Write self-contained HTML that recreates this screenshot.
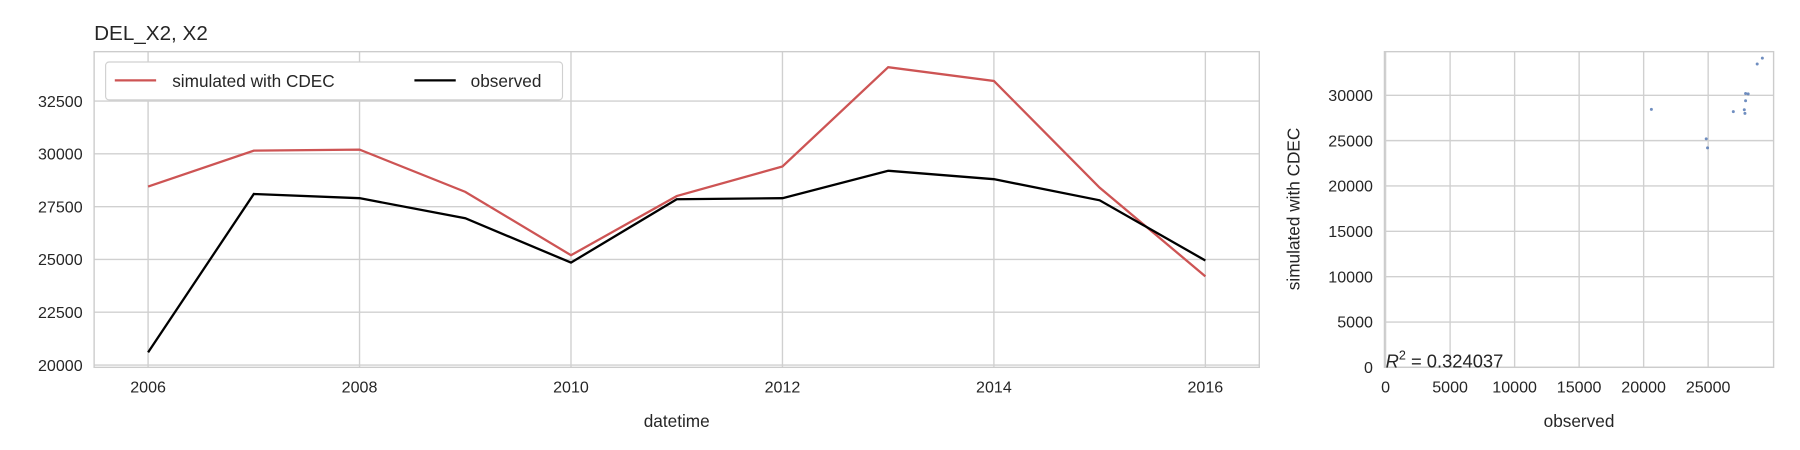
<!DOCTYPE html>
<html><head><meta charset="utf-8">
<style>
html,body{margin:0;padding:0;background:#fff;}
svg{display:block;font-family:"Liberation Sans",Arial,sans-serif;}
</style></head>
<body>
<svg id="c" width="1800" height="450" viewBox="0 0 1568 392" xmlns="http://www.w3.org/2000/svg">
<text x="82" y="35" font-size="18" fill="#262626">DEL_X2, X2</text>
<g id="left"></g>
<g id="right"></g>
</svg>
<script>
const years = [2006,2007,2008,2009,2010,2011,2012,2013,2014,2015,2016];
const simulated = [28450,30150,30200,28200,25200,28000,29400,34100,33450,28400,24200];
const observed = [20600,28100,27900,26950,24850,27850,27900,29200,28800,27800,24950];
const leftYTicks = [20000,22500,25000,27500,30000,32500];
const leftXTicks = [2006,2008,2010,2012,2014,2016];
const rightTicks = [0,5000,10000,15000,20000,25000,30000];
const rightXTicks = [0,5000,10000,15000,20000,25000];
const r2Label = "0.324037";

const NS="http://www.w3.org/2000/svg";
function mk(parent,tag,attrs,text){const e=document.createElementNS(NS,tag);for(const k in attrs)e.setAttribute(k,attrs[k]);if(text!==undefined)e.textContent=text;parent.appendChild(e);return e;}

const L=document.getElementById('left');
const lx0=82,lx1=1097,ly0=45,ly1=320;
const xs=v=>129+(v-2006)*92.1;
const ys=v=>318-(v-20000)*46/2500;
let e;
leftYTicks.forEach(t=>{
 e=mk(L,'line',{x1:lx0,x2:lx1,y1:ys(t),y2:ys(t),stroke:'#d0d0d0','stroke-width':1.2});
 
 
 e=mk(L,'text',{x:lx0-10,y:ys(t)+5,'font-size':14,fill:'#262626','text-anchor':'end'},String(t));
 
 
});
leftXTicks.forEach(t=>{
 e=mk(L,'line',{x1:xs(t),x2:xs(t),y1:ly0,y2:ly1,stroke:'#d0d0d0','stroke-width':1.2});
 
 
 e=mk(L,'text',{x:xs(t),y:ly1+22,'font-size':14,fill:'#262626','text-anchor':'middle'},String(t));
 
 
});
e=mk(L,'rect',{x:lx0,y:ly0,width:lx1-lx0,height:ly1-ly0,fill:'none',stroke:'#cccccc','stroke-width':1.2});


e=mk(L,'text',{x:(lx0+lx1)/2,y:372,'font-size':15,fill:'#262626','text-anchor':'middle'},'datetime');


e=mk(L,'polyline',{points:years.map((y,i)=>xs(y)+','+ys(simulated[i])).join(' '),fill:'none',stroke:'#cd5454','stroke-width':2});


e=mk(L,'polyline',{points:years.map((y,i)=>xs(y)+','+ys(observed[i])).join(' '),fill:'none',stroke:'#000','stroke-width':2});


const lg=mk(L,'g',{});


mk(lg,'rect',{x:92,y:54,width:398,height:33,rx:3,fill:'#fff',stroke:'#d0d0d0','stroke-width':1});
mk(lg,'line',{x1:100,x2:136,y1:70,y2:70,stroke:'#cd5454','stroke-width':2});
e=mk(lg,'text',{x:150,y:76,'font-size':15,fill:'#262626'},'simulated with CDEC');


mk(lg,'line',{x1:361,x2:397,y1:70,y2:70,stroke:'#000','stroke-width':2});
e=mk(lg,'text',{x:410,y:76,'font-size':15,fill:'#262626'},'observed');



const R=document.getElementById('right');
const rx0=1206,rx1=1545,ry0=45,ry1=320;
const sx=v=>1207+v*281/25000;
const sy=v=>320-v*39.5/5000;
rightTicks.forEach(t=>{
 e=mk(R,'line',{x1:rx0,x2:rx1,y1:sy(t),y2:sy(t),stroke:'#d0d0d0','stroke-width':1.2});
 
 
 e=mk(R,'text',{x:rx0-10,y:sy(t)+5,'font-size':14,fill:'#262626','text-anchor':'end'},String(t));
 
 
});
rightXTicks.forEach(t=>{
 e=mk(R,'line',{x1:sx(t),x2:sx(t),y1:ry0,y2:ry1,stroke:'#d0d0d0','stroke-width':1.2});
 
 
 e=mk(R,'text',{x:sx(t),y:ry1+22,'font-size':14,fill:'#262626','text-anchor':'middle'},String(t));
 
 
});
e=mk(R,'rect',{x:rx0,y:ry0,width:rx1-rx0,height:ry1-ry0,fill:'none',stroke:'#cccccc','stroke-width':1.2});


observed.forEach((o,i)=>{
 e=mk(R,'circle',{cx:sx(o),cy:sy(simulated[i]),r:1.3,fill:'#4c72b0',opacity:0.8});
 
 
});
e=mk(R,'text',{x:(rx0+rx1)/2,y:372,'font-size':15,fill:'#262626','text-anchor':'middle'},'observed');


e=mk(R,'text',{x:1132,y:182,'font-size':15,fill:'#262626','text-anchor':'middle',transform:'rotate(-90 1132 182)'},'simulated with CDEC');


const rt=mk(R,'text',{x:1207,y:320,'font-size':16,fill:'#262626','font-style':'italic'});


mk(rt,'tspan',{},'R');
mk(rt,'tspan',{dy:-7,'font-size':11,'font-style':'normal'},'2');
mk(rt,'tspan',{dy:7,'font-style':'normal'},' = '+r2Label);
</script>
</body></html>
